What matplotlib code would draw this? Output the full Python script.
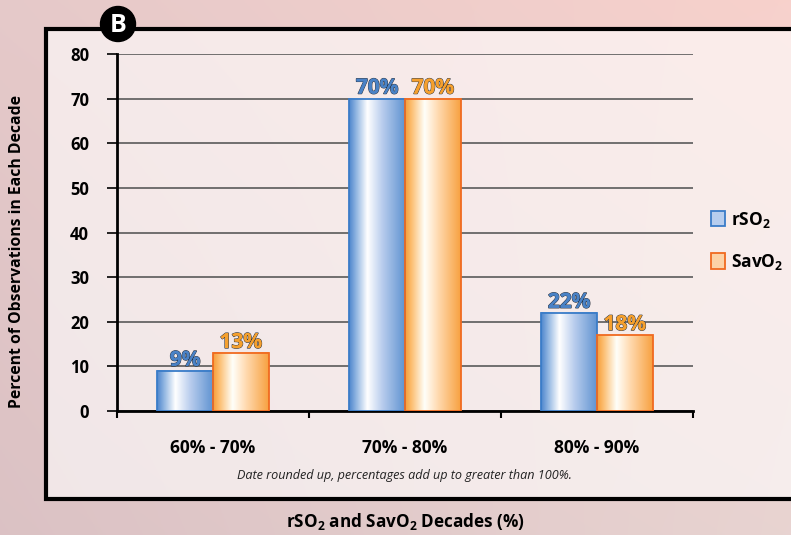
import numpy as np
import matplotlib
matplotlib.use("Agg")
import matplotlib.pyplot as plt
from matplotlib.colors import LinearSegmentedColormap
from matplotlib.patches import Rectangle, Circle, Patch
import matplotlib.patheffects as pe

FONT = 'Open Sans'
plt.rcParams['font.family'] = [FONT, 'DejaVu Sans']
plt.rcParams['mathtext.fontset'] = 'custom'
plt.rcParams['mathtext.rm'] = FONT
plt.rcParams['mathtext.bf'] = FONT + ':bold'
plt.rcParams['mathtext.it'] = FONT + ':italic'

# ---- data ----
categories = ["60% - 70%", "70% - 80%", "80% - 90%"]
rso2 = [9, 70, 22]
savo2 = [13, 70, 17]
rso2_labels = ["9%", "70%", "22%"]
savo2_labels = ["13%", "70%", "18%"]
yticks = [0, 10, 20, 30, 40, 50, 60, 70, 80]

W, H = 791, 535
fig = plt.figure(figsize=(W/100, H/100), dpi=100)

# ---- background (pixel coordinates, y down) ----
bg = fig.add_axes([0, 0, 1, 1], zorder=-10)
yy, xx = np.mgrid[0:1:200j, 0:1:300j]
c_tl = np.array([0.90, 0.79, 0.79])
c_tr = np.array([0.97, 0.82, 0.80])
c_bl = np.array([0.86, 0.76, 0.77])
c_br = np.array([0.91, 0.83, 0.82])
img = (c_tl[None, None] * ((1-xx)*(1-yy))[..., None] + c_tr[None, None] * (xx*(1-yy))[..., None]
       + c_bl[None, None] * ((1-xx)*yy)[..., None] + c_br[None, None] * (xx*yy)[..., None])
bg.imshow(np.clip(img, 0, 1), extent=[0, W, H, 0], aspect='auto', origin='upper')
bg.set_xlim(0, W); bg.set_ylim(H, 0)
bg.axis('off')

# panel
bg.add_patch(Rectangle((46, 29), W + 20 - 46, 499 - 29, facecolor=(1, 1, 1, 0.6),
                       edgecolor='black', linewidth=3, zorder=2))
# B badge
bg.add_patch(Circle((118, 24), 17.5, facecolor='black', edgecolor='black', zorder=3))
bg.text(118, 25, "B", color='white', fontsize=18, fontweight='bold',
        ha='center', va='center', zorder=4)

# ---- main axes ----
ax = fig.add_axes([117/W, 1-411/H, (693-117)/W, (411-54)/H])
ax.patch.set_alpha(0)

x = np.arange(len(categories))
bw = 0.29

blue_cmap = LinearSegmentedColormap.from_list("b", [
    (0.0, (0.30, 0.52, 0.80)), (0.12, (0.55, 0.70, 0.88)), (0.33, (1.0, 1.0, 1.0)),
    (0.6, (0.72, 0.80, 0.93)), (1.0, (0.38, 0.58, 0.82))])
orange_cmap = LinearSegmentedColormap.from_list("o", [
    (0.0, (0.97, 0.62, 0.22)), (0.12, (0.99, 0.75, 0.45)), (0.35, (1.0, 1.0, 0.98)),
    (0.6, (1.0, 0.85, 0.68)), (1.0, (0.97, 0.63, 0.25))])

b1 = ax.bar(x - bw/2, rso2, bw, facecolor='none', edgecolor='#3a7cc8', linewidth=1.3, zorder=4)
b2 = ax.bar(x + bw/2, savo2, bw, facecolor='none', edgecolor='#f06a20', linewidth=1.3, zorder=4)

grad = np.linspace(0, 1, 256)[None, :]
for bars, cmap in ((b1, blue_cmap), (b2, orange_cmap)):
    for r in bars:
        x0, w, h = r.get_x(), r.get_width(), r.get_height()
        ax.imshow(grad, cmap=cmap, extent=[x0, x0+w, 0, h], aspect='auto', zorder=3,
                  interpolation='bilinear')

ax.set_xlim(-0.5, 2.5)
ax.set_ylim(0, 80)
ax.set_yticks(yticks)
ax.set_yticklabels([str(v) for v in yticks], fontsize=12, fontweight='bold')
ax.yaxis.grid(True, color='#5a5a5a', linewidth=1.2, zorder=1)
ax.set_axisbelow(True)
ax.tick_params(axis='y', direction='out', length=7, width=1.2, pad=13)

ax.set_xticks(x)
ax.set_xticklabels(categories, fontsize=12.5, fontweight='bold')
ax.set_xticks([-0.5, 0.5, 1.5, 2.5], minor=True)
ax.tick_params(axis='x', which='major', length=0, pad=20)
ax.tick_params(axis='x', which='minor', direction='out', length=5, width=1.5)

for s in ('top', 'right'):
    ax.spines[s].set_visible(False)
ax.spines['left'].set_linewidth(2)
ax.spines['bottom'].set_linewidth(2)

# value labels
for bars, labels, col in ((b1, rso2_labels, '#4a82c6'), (b2, savo2_labels, '#f5a02e')):
    for r, lab in zip(bars, labels):
        t = ax.annotate(lab, (r.get_x() + r.get_width()/2, r.get_height()), xytext=(0, 0),
                        textcoords='offset points', ha='center', va='bottom',
                        fontsize=15, fontweight='bold', color=col, zorder=6)
        t.set_path_effects([pe.withStroke(linewidth=0.9, foreground='#2c3440'), pe.Normal()])

# axis labels
fig.text(17/W, 1-251/H, "Percent of Observations in Each Decade", rotation=90,
         ha='center', va='center', fontsize=11.3, fontweight='bold')
fig.text(406/W, 1-522/H, r"$\mathbf{rSO_2}$ and $\mathbf{SavO_2}$ Decades (%)",
         ha='center', va='center', fontsize=12.3, fontweight='bold')
fig.text(404/W, 1-475/H, "Date rounded up, percentages add up to greater than 100%.",
         ha='center', va='center', fontsize=9.1, style='italic', color='#222222')

# legend
handles = [Patch(facecolor='#b7cdee', edgecolor='#3a7cc8', linewidth=1.3),
           Patch(facecolor='#fcd2a6', edgecolor='#f06a20', linewidth=1.3)]
leg = fig.legend(handles, [r"$\mathbf{rSO_2}$", r"$\mathbf{SavO_2}$"], loc='upper left',
                 bbox_to_anchor=(695/W, 1-194/H), frameon=False, fontsize=12.5,
                 handlelength=0.8, handleheight=1.0, handletextpad=0.4, labelspacing=1.3)

fig.savefig("out.png", dpi=100)
